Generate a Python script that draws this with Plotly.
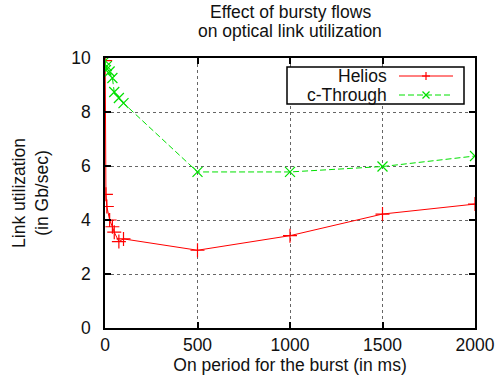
import plotly.graph_objects as go

on_period_ms = [1, 5, 10, 25, 40, 50, 75, 100, 500, 1000, 1500, 2000]
helios = [9.9, 4.95, 4.5, 4.0, 3.75, 3.55, 3.2, 3.3, 2.88, 3.42, 4.22, 4.59]
cthrough = [9.9, 9.55, 9.7, 9.5, 9.26, 8.74, 8.52, 8.33, 5.78, 5.78, 5.98, 6.37]

series_names = ["Helios", "c-Through"]
series_colors = ["#ff0000", "#00e000"]
series_dash = ["solid", "6px,3px"]

x_ticks = [0, 500, 1000, 1500, 2000]
y_ticks = [0, 2, 4, 6, 8, 10]

title_lines = ["Effect of bursty flows", "on optical link utilization"]

FONT = "Liberation Sans, Arial, sans-serif"
TXT = "#111111"

W, H = 504, 390
ML, MR, MT, MB = 105, 29, 58, 62
PW, PH = W - ML - MR, H - MT - MB

fig = go.Figure()
fig.add_trace(go.Scatter(
    x=on_period_ms, y=helios, name=series_names[0], mode="lines+markers",
    line=dict(color=series_colors[0], width=1, dash=series_dash[0]),
    marker=dict(symbol="cross-thin", size=10, line=dict(color=series_colors[0], width=1.2)),
))
fig.add_trace(go.Scatter(
    x=on_period_ms, y=cthrough, name=series_names[1], mode="lines+markers",
    line=dict(color=series_colors[1], width=1, dash=series_dash[1]),
    marker=dict(symbol="x-thin", size=10, line=dict(color=series_colors[1], width=1.2)),
))

axis_common = dict(
    showline=True, linecolor="black", linewidth=1.5, mirror="ticks",
    ticks="inside", ticklen=6, tickcolor="black", tickwidth=1.5,
    showgrid=True, gridcolor="#666666", griddash="dot", gridwidth=1,
    zeroline=False, automargin=False,
    tickfont=dict(size=17.5, color=TXT, family=FONT),
)

fig.update_xaxes(
    range=[0, 2000], tickvals=x_ticks, ticklabelstandoff=0,
    title=dict(text="On period for the burst (in ms)", font=dict(size=17.5, color=TXT, family=FONT), standoff=5),
    **axis_common,
)
fig.update_yaxes(
    range=[0, 10], tickvals=y_ticks, ticklabelstandoff=9,
    title=dict(text="Link utilization<br>(in Gb/sec)", font=dict(size=17.5, color=TXT, family=FONT), standoff=18),
    **axis_common,
)

for i, line in enumerate(title_lines):
    fig.add_annotation(
        text=line, xref="paper", yref="paper", x=0.5, y=1,
        xanchor="center", yanchor="middle",
        yshift=46 - 19 * i, showarrow=False,
        font=dict(size=17.5, family=FONT, color=TXT),
    )

# --- legend drawn gnuplot-style (text right-aligned, sample on the right) ---
def px(xp):
    return (xp - ML) / PW

def py(yp):
    return (H - MB - yp) / PH

fig.add_shape(type="rect", xref="paper", yref="paper",
              x0=px(287), x1=px(464), y0=py(104), y1=py(67),
              line=dict(color="black", width=1.5), fillcolor="white", layer="above")
legend_rows = [76, 95]
for i, name in enumerate(series_names):
    yy = legend_rows[i]
    col = series_colors[i]
    fig.add_annotation(text=name, xref="paper", yref="paper", x=px(389), y=py(yy),
                       xanchor="right", yanchor="middle", showarrow=False,
                       font=dict(size=17.5, family=FONT, color=TXT))
    fig.add_shape(type="line", xref="paper", yref="paper",
                  x0=px(399), x1=px(453), y0=py(yy), y1=py(yy), layer="above",
                  line=dict(color=col, width=1, dash=series_dash[i]))
    c = 426
    if i == 0:
        segs = [((c - 4, yy), (c + 4, yy)), ((c, yy - 4), (c, yy + 4))]
    else:
        segs = [((c - 3.5, yy - 3.5), (c + 3.5, yy + 3.5)), ((c - 3.5, yy + 3.5), (c + 3.5, yy - 3.5))]
    for (a, b) in segs:
        fig.add_shape(type="line", xref="paper", yref="paper",
                      x0=px(a[0]), y0=py(a[1]), x1=px(b[0]), y1=py(b[1]), layer="above",
                      line=dict(color=col, width=1.2))

fig.update_layout(
    width=W, height=H,
    margin=dict(l=ML, r=MR, t=MT, b=MB),
    plot_bgcolor="white", paper_bgcolor="white",
    font=dict(family=FONT, size=17.5, color=TXT),
    showlegend=False,
)

fig.write_html("out.html", post_script="document.body.style.margin='0';",
               config={"displayModeBar": False})
